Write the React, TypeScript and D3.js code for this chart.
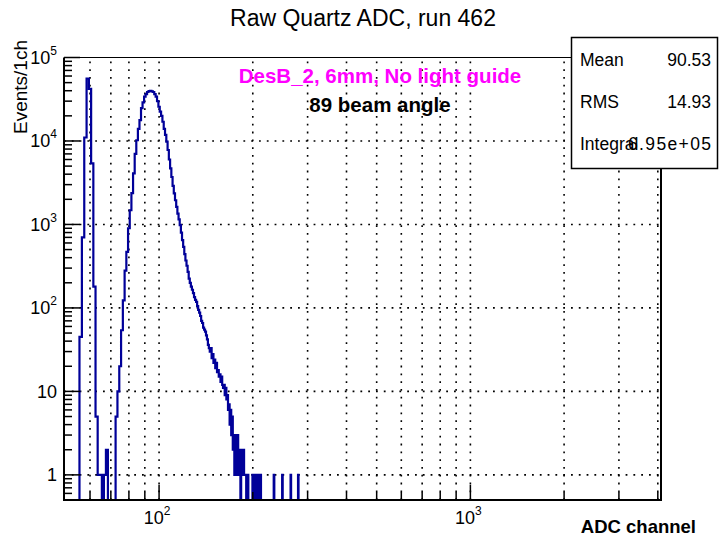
import React from 'react';
import * as d3 from 'd3';

// ADC channel (bin centre) and events per 1-channel bin (zero bins omitted)
const adcChannels = [
  56, 57, 58, 59, 60, 61, 62, 63, 64, 65, 67, 68,
  73, 74, 75, 76, 77, 78, 79, 80, 81, 82, 83, 84, 85, 86, 87, 88, 89, 90,
  91, 92, 93, 94, 95, 96, 97, 98, 99, 100, 101, 102, 103, 104, 105, 106, 107, 108, 109, 110,
  111, 112, 113, 114, 115, 116, 117, 118, 119, 120, 121, 122, 123, 124, 125, 126, 127, 128, 129, 130,
  131, 132, 133, 134, 135, 136, 137, 138, 139, 140, 141, 142, 143, 144, 145, 146, 147, 148, 149, 150,
  151, 152, 153, 154, 155, 156, 157, 158, 159, 160, 161, 162, 163, 164, 165, 166, 167, 168, 169, 170,
  171, 172, 173, 174, 175, 176, 177, 178, 179, 180, 181, 182, 184, 185, 186, 187, 188, 189, 190,
  193, 200, 202, 204, 208, 212, 234, 249, 265, 280,
];
const eventCounts = [
  45, 700, 11000, 56000, 42000, 5400, 180, 5, 1, 1, 1, 2,
  5, 10, 20, 54, 123, 280, 470, 900, 1480, 2370, 4100, 7000, 10200, 14000, 17800, 24700, 29000, 33900,
  36500, 38600, 39500, 39800, 39200, 38600, 36500, 33900, 30000, 25700, 22500, 20000, 17000, 14000, 11800, 9800, 7800, 6000, 4700, 3700,
  2900, 2350, 1950, 1620, 1350, 1150, 980, 800, 650, 540, 440, 370, 320, 270, 225, 200, 180, 165, 150, 135,
  125, 118, 105, 95, 88, 80, 70, 66, 58, 55, 52, 47, 42, 36, 33, 30, 33, 25, 28, 22,
  24, 19, 22, 17, 18, 15, 16, 13, 15, 12, 11, 12, 9, 11, 8, 9, 6, 7, 4, 6,
  3, 5, 2, 3, 1, 3, 2, 1, 3, 1, 2, 1, 2, 1, 1, 2, 1, 1, 1,
  1, 1, 1, 1, 1, 1, 1, 1, 1, 1,
];

const xMajorTicks = [100, 1000];
const xMinorTicks = [60, 70, 80, 90, 200, 300, 400, 500, 600, 700, 800, 900, 2000, 3000, 4000];
const xGrid = [60, 70, 80, 90, 100, 200, 300, 400, 500, 600, 700, 800, 900, 1000, 2000, 3000, 4000];
const yMajorTicks = [1, 10, 100, 1000, 10000, 100000];
const yTickLabels = [
  { v: 1, base: '1', exp: '' },
  { v: 10, base: '10', exp: '' },
  { v: 100, base: '10', exp: '2' },
  { v: 1000, base: '10', exp: '3' },
  { v: 10000, base: '10', exp: '4' },
  { v: 100000, base: '10', exp: '5' },
];
const xTickLabels = [
  { v: 100, base: '10', exp: '2' },
  { v: 1000, base: '10', exp: '3' },
];
const yGrid = [1, 10, 100, 1000, 10000];
const statNames = ['Mean', 'RMS', 'Integral'];
const statValues = ['90.53', '14.93', '6.95e+05'];

const W = 719;
const H = 543;
const FONT = '"Liberation Sans", Arial, Helvetica, sans-serif';

export default function App() {
  const left = 64, right = 661, top = 57.5, bottom = 500;
  const x = d3.scaleLog().domain([49.5, 4095.5]).range([left, right]);
  const y = d3.scaleLog().domain([0.5, 100000]).range([bottom, top]);

  const yMinor: number[] = [];
  for (let d = -1; d <= 4; d++) {
    for (let k = 2; k <= 9; k++) {
      const v = k * Math.pow(10, d);
      if (v > 0.5 && v < 100000) yMinor.push(v);
    }
  }

  // full histogram 50..300 (zeros filled)
  const map = new Map<number, number>();
  adcChannels.forEach((c, i) => map.set(c, eventCounts[i]));
  const pts: [number, number][] = [];
  for (let c = 50; c <= 300; c++) {
    const v = map.get(c) || 0;
    const yy = v > 0 ? y(v) : bottom + 10;
    pts.push([x(c - 0.5), yy]);
    pts.push([x(c + 0.5), yy]);
  }
  const path = d3.line()(pts) || '';

  return (
    <svg width={W} height={H} style={{ position: 'absolute', left: 0, top: 0, background: '#fff' }} fontFamily={FONT}>
      <defs>
        <clipPath id="plotclip">
          <rect x={left} y={top} width={right - left} height={bottom - top} />
        </clipPath>
      </defs>
      <rect x={0} y={0} width={W} height={H} fill="#fff" />
      {/* grid */}
      <g stroke="#000" strokeWidth={1.6} strokeDasharray="1.8 6">
        {xGrid.map((v) => (
          <line key={'gx' + v} x1={x(v)} x2={x(v)} y1={bottom} y2={top} />
        ))}
        {yGrid.map((v) => (
          <line key={'gy' + v} x1={left} x2={right} y1={y(v)} y2={y(v)} />
        ))}
      </g>
      {/* histogram */}
      <path d={path} fill="none" stroke="#000099" strokeWidth={2.2} clipPath="url(#plotclip)" />
      {/* frame */}
      <g stroke="#000">
        <line x1={left} x2={right} y1={top} y2={top} strokeWidth={1} />
        <line x1={right} x2={right} y1={top} y2={bottom} strokeWidth={2} />
        <line x1={left} x2={left} y1={top} y2={bottom + 1} strokeWidth={2} />
        <line x1={left - 1} x2={right + 1} y1={bottom} y2={bottom} strokeWidth={2} />
      </g>
      {/* ticks */}
      <g stroke="#000" strokeWidth={1.5}>
        {yMajorTicks.map((v) => (
          <line key={'ym' + v} x1={left} x2={left + 16} y1={y(v)} y2={y(v)} />
        ))}
        {yMinor.map((v) => (
          <line key={'yn' + v} x1={left} x2={left + 8} y1={y(v)} y2={y(v)} />
        ))}
        {xMajorTicks.map((v) => (
          <line key={'xm' + v} x1={x(v)} x2={x(v)} y1={bottom} y2={bottom - 15} />
        ))}
        {xMinorTicks.map((v) => (
          <line key={'xn' + v} x1={x(v)} x2={x(v)} y1={bottom} y2={bottom - 8} />
        ))}
      </g>
      {/* tick labels */}
      <g fontSize={18} fill="#000">
        {yTickLabels.map((t) => (
          <text key={'yl' + t.v} x={57} y={y(t.v) + 6.5} textAnchor="end">
            {t.base}
            {t.exp && (
              <tspan fontSize={12} dy={-9}>
                {t.exp}
              </tspan>
            )}
          </text>
        ))}
        {xTickLabels.map((t) => (
          <text key={'xl' + t.v} x={x(t.v) - 2} y={524} textAnchor="middle">
            {t.base}
            <tspan fontSize={12} dy={-9}>
              {t.exp}
            </tspan>
          </text>
        ))}
      </g>
      {/* axis titles */}
      <text x={696} y={533} textAnchor="end" fontSize={18.5} fontWeight="bold">
        ADC channel
      </text>
      <text transform="translate(27,40) rotate(-90)" textAnchor="end" fontSize={19}>
        Events/1ch
      </text>
      {/* title */}
      <text x={363} y={26} textAnchor="middle" fontSize={23}>
        Raw Quartz ADC, run 462
      </text>
      {/* annotations */}
      <text x={380} y={83} textAnchor="middle" fontSize={20.5} fontWeight="bold" fill="#ff00ff">
        DesB_2, 6mm, No light guide
      </text>
      <text x={380} y={112} textAnchor="middle" fontSize={20.5} fontWeight="bold" fill="#000">
        89 beam angle
      </text>
      {/* stats box */}
      <rect x={571.5} y={37.5} width={146} height={131} fill="#fff" stroke="#000" strokeWidth={1.5} />
      {statNames.map((n, i) => (
        <g key={n} fontSize={17.5}>
          <text x={580} y={66 + i * 42}>{n}</text>
          <text
            x={711}
            y={66 + i * 42}
            textAnchor="end"
            textLength={n === 'Integral' ? 83 : undefined}
            lengthAdjust="spacing"
          >
            {statValues[i]}
          </text>
        </g>
      ))}
    </svg>
  );
}
